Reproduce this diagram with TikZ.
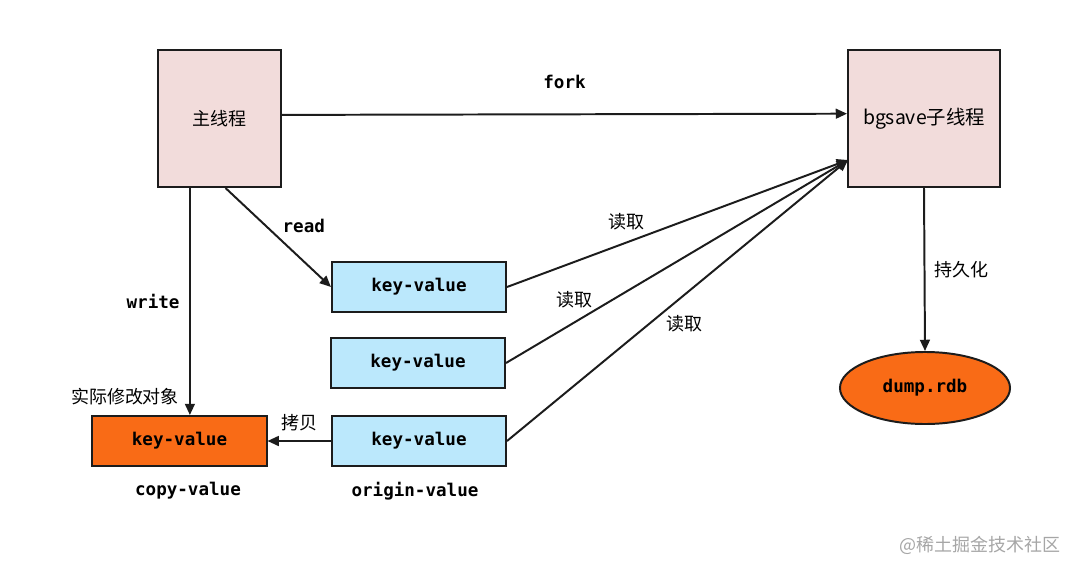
\documentclass[tikz,border=0pt]{standalone}
\usepackage{fontspec}
\setmainfont{Noto Sans CJK SC}
\setmonofont{DejaVu Sans Mono}
\usepackage{tikz}
\usetikzlibrary{arrows,arrows.meta,shapes.geometric,positioning}

\definecolor{threadpink}{HTML}{F2DCDB}
\definecolor{kvblue}{HTML}{BBE8FC}
\definecolor{copyorange}{HTML}{F96B16}
\definecolor{linegray}{HTML}{1C1C1C}

\begin{document}
\begin{tikzpicture}[x=0.025cm,y=-0.025cm,
font=\fontsize{12.8}{15}\selectfont,
thread/.style={draw=linegray,line width=1.4pt,fill=threadpink,minimum width=3.075cm,minimum height=3.425cm},
kv/.style={draw=linegray,line width=1.4pt,fill=kvblue,minimum width=4.35cm,minimum height=1.25cm,font=\fontsize{12.5}{15}\selectfont\ttfamily\bfseries},
copybox/.style={kv,fill=copyorange},
arrowlabel/.style={inner sep=1pt},
monolabel/.style={inner sep=1pt,font=\fontsize{12.5}{15}\selectfont\ttfamily\bfseries},
arrow/.style={-{Triangle[length=8pt,width=7pt]},line width=1.4pt,draw=linegray} ]

\useasboundingbox (0,0) rectangle (1080,572);

\node[thread] (main) at (219.5,118.5) {主线程};

\node[thread,minimum width=3.8cm,font=\fontsize{13.8}{16}\selectfont] (bgsave) at (924,118.5) {bgsave子线程};

\node[kv] (kv1) at (419,287) {key-value};

\node[kv] (kv2) at (418,363) {key-value};

\node[kv] (kv3) at (419,441) {key-value};

\node[copybox] (copy) at (179.5,441) {key-value};

\node[ellipse,draw=linegray,line width=1.4pt,fill=copyorange,minimum width=4.25cm,minimum height=1.8cm,font=\fontsize{12.5}{15}\selectfont\ttfamily\bfseries] (rdb) at (925,388) {dump.rdb};

\coordinate (readin) at (848,160);

\node[monolabel] (copylabel) at (188,491) {copy-value};

\node[monolabel] (originlabel) at (415,491) {origin-value};

\node[arrowlabel] (modlabel) at (125,397) {实际修改对象};

\node[text=gray!70] (mark) at (980,545) {@稀土掘金技术社区};

\draw[arrow] ([yshift=0.09cm]main.east) -- node[above=0.58cm,monolabel] {fork} ([yshift=0.12cm]bgsave.west);

\draw[arrow] ([xshift=0.15cm]main.south) -- node[above right=0.05cm and 0.05cm,monolabel] {read} (kv1.west);

\draw[arrow] ([xshift=-0.74cm]main.south) -- node[left=0.2cm,monolabel] {write} ([xshift=-0.74cm]main.south |- copy.north);

\draw[arrow] (kv3.west) -- node[above=0.2cm,arrowlabel] {拷贝} (copy.east);

\draw[arrow] (kv1.east) -- node[pos=0.35,above=0.25cm,arrowlabel] {读取} (readin);

\draw[arrow] (kv2.east) -- node[pos=0.2,above=0.3cm,arrowlabel] {读取} (readin);

\draw[arrow] (kv3.east) -- node[pos=0.52,below=0.45cm,arrowlabel] {读取} (readin);

\draw[arrow] (bgsave.south) -- node[pos=0.5,right=0.2cm,arrowlabel] {持久化} (rdb.north);

\end{tikzpicture}
\end{document}
